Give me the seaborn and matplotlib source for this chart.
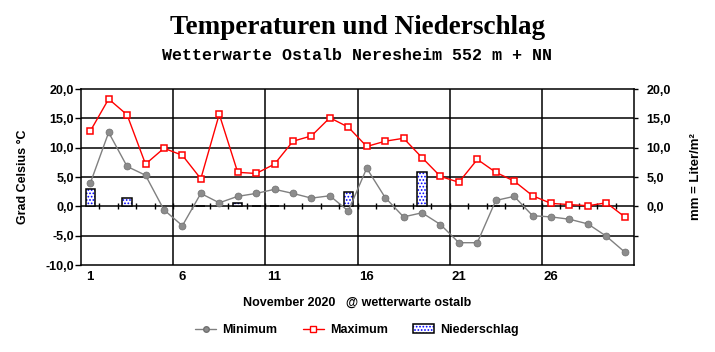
import numpy as np
import pandas as pd
import matplotlib
matplotlib.use("Agg")
import matplotlib.pyplot as plt
import seaborn as sns
from matplotlib.lines import Line2D
from matplotlib.patches import Patch

sns.set_style("white")
plt.rcParams['font.family'] = ['Liberation Sans', 'DejaVu Sans']
plt.rcParams['hatch.linewidth'] = 0.8
for k in ['text.color', 'axes.labelcolor', 'xtick.color', 'ytick.color']:
    plt.rcParams[k] = 'black'

# Tage im November 2020
tage = list(range(1, 31))
t_min = [3.9, 12.6, 6.8, 5.3, -0.6, -3.3, 2.2, 0.6, 1.7, 2.2,
         2.9, 2.2, 1.4, 1.8, -0.8, 6.5, 1.5, -1.8, -1.1, -3.1,
         -6.2, -6.2, 1.0, 1.7, -1.6, -1.8, -2.2, -3.0, -5.1, -7.8]
t_max = [12.8, 18.3, 15.6, 7.2, 9.9, 8.7, 4.7, 15.7, 5.8, 5.6,
         7.2, 11.1, 12.0, 15.1, 13.5, 10.2, 11.1, 11.6, 8.3, 5.1,
         4.1, 8.0, 5.8, 4.3, 1.8, 0.5, 0.3, 0.1, 0.6, -1.8]
niederschlag = [3.0, 0, 1.5, 0, 0, 0, 0.1, 0, 0.5, 0.1,
                0.1, 0, 0, 0, 2.5, 0, 0, 0, 5.8, 0,
                0, 0, 0.1, 0, 0, 0, 0, 0, 0, 0]

df = pd.DataFrame({'Tag': tage, 'Minimum': t_min, 'Maximum': t_max,
                   'Niederschlag': niederschlag})

fig = plt.figure(figsize=(7.15, 3.52), dpi=100)
ax = fig.add_axes([81 / 715, 87 / 352, 553 / 715, 176 / 352])

# Gitter
for y in [-5, 0, 5, 10, 15]:
    ax.axhline(y, color='black', lw=1.1, zorder=1)
for x in [5.5, 10.5, 15.5, 20.5, 25.5]:
    ax.axvline(x, color='black', lw=1.1, zorder=1)

# kleine Striche auf der Nulllinie
halb = np.arange(1.5, 30.5, 1.0)
ax.plot(halb, np.zeros_like(halb), ls='none', marker='|', ms=4.5, mew=1.0,
        color='black', zorder=2)

# Niederschlag (Balken)
nd = df[df['Niederschlag'] > 0]
ax.bar(nd['Tag'], nd['Niederschlag'], width=0.5, facecolor='white',
       edgecolor='#0000ff', hatch='.....', lw=0, zorder=3)
ax.bar(nd['Tag'], nd['Niederschlag'], width=0.5, fill=False,
       edgecolor='black', lw=1.1, zorder=4)

sns.lineplot(data=df, x='Tag', y='Minimum', ax=ax, color='#808080', lw=1,
             marker='o', markersize=5, markerfacecolor='#8c8c8c',
             markeredgecolor='#707070', markeredgewidth=0.5, zorder=5)
sns.lineplot(data=df, x='Tag', y='Maximum', ax=ax, color='#ff0000', lw=1,
             marker='s', markersize=5, markerfacecolor='white',
             markeredgecolor='#ff0000', markeredgewidth=1.1, zorder=6)

ax.set_xlim(0.5, 30.5)
ax.set_ylim(-10, 20)
ax.set_xticks([1, 6, 11, 16, 21, 26])
ax.set_xticklabels(['1', '6', '11', '16', '21', '26'], fontweight='bold', fontsize=9.5)
yt = [-10, -5, 0, 5, 10, 15, 20]
ax.set_yticks(yt)
ax.set_yticklabels([f'{v:.1f}'.replace('.', ',') for v in yt], fontweight='bold', fontsize=9)
ax.tick_params(axis='x', length=0, pad=4)
ax.tick_params(axis='y', length=4, width=1, color='black', direction='out', pad=1)
for s in ax.spines.values():
    s.set_color('black')
    s.set_linewidth(1.1)
ax.set_xlabel('')
ax.set_ylabel('Grad Celsius °C', fontweight='bold', fontsize=9, labelpad=12)

ax2 = ax.twinx()
ax2.set_ylim(-10, 20)
ax2.set_yticks([-5, 0, 5, 10, 15, 20])
ax2.set_yticklabels(['', '0,0', '5,0', '10,0', '15,0', '20,0'], fontweight='bold', fontsize=9)
ax2.tick_params(axis='y', length=3, width=1, color='black', direction='out', pad=6)
for s in ax2.spines.values():
    s.set_visible(False)
ax2.set_ylabel('mm = Liter/m²', fontweight='bold', fontsize=9.5, labelpad=14)

fig.text(0.5, 1 - 28 / 352, 'Temperaturen und Niederschlag', ha='center', va='center',
         family='Liberation Serif', fontweight='bold', fontsize=19.5)
fig.text(0.5, 1 - 55 / 352, 'Wetterwarte Ostalb Neresheim 552 m + NN', ha='center',
         va='center', family='Liberation Mono', fontweight='bold', fontsize=12)
fig.text(357 / 715, 1 - 303 / 352, 'November 2020   @ wetterwarte ostalb', ha='center',
         va='center', fontweight='bold', fontsize=9)

handles = [
    Line2D([], [], color='#808080', lw=1, marker='o', ms=4, markerfacecolor='#8c8c8c',
           markeredgecolor='#707070'),
    Line2D([], [], color='#ff0000', lw=1, marker='s', ms=4.5, markerfacecolor='white',
           markeredgecolor='#ff0000'),
    (Patch(facecolor='white', edgecolor='#0000ff', hatch='.....', lw=0),
     Patch(fill=False, edgecolor='black', lw=1.1)),
]
leg = fig.legend(handles, ['Minimum', 'Maximum', 'Niederschlag'], loc='center',
                 bbox_to_anchor=(357 / 715, 1 - 330 / 352), ncol=3, frameon=False,
                 prop={'weight': 'bold', 'size': 9}, handlelength=1.7,
                 handletextpad=0.5, columnspacing=2.0)

fig.savefig('out.png', dpi=100)
